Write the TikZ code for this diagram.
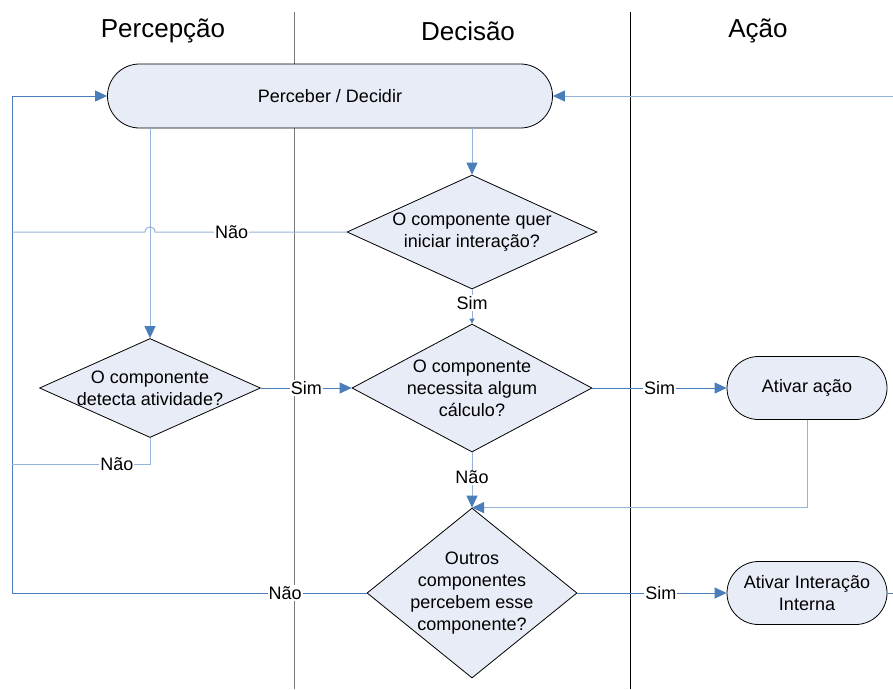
\documentclass[tikz,border=0pt]{standalone}
\usepackage{fontspec}
\setmainfont{Liberation Sans}
\usepackage{xcolor}
\usepackage{tikz}
\usetikzlibrary{shapes}
\usetikzlibrary{arrows.meta}

\definecolor{lanegray}{RGB}{120,120,120}
\definecolor{flowdark}{RGB}{74,126,187}
\definecolor{flowlight}{RGB}{149,179,215}
\definecolor{boxfill}{RGB}{232,236,247}

\tikzset{
  bodyfont/.style={font=\fontsize{18}{22}\selectfont},
  lanehead/.style={inner sep=0pt, font=\fontsize{26}{30}\selectfont},
  terminal/.style={rounded rectangle, draw=black, fill=boxfill, line width=0.8pt, minimum height=63pt, inner sep=0pt, align=center, bodyfont},
  decision/.style={diamond, draw=black, fill=boxfill, line width=0.8pt, inner sep=-8pt, align=center, bodyfont},
  lbl/.style={fill=white, inner sep=1pt, text=black, bodyfont},
  tip/.style={-{Triangle[length=12pt,width=11pt,color=flowdark]}},
  smalltip/.style={-{Triangle[length=5pt,width=5pt,color=flowdark]}},
  conn/.style={line width=1pt},
}

\begin{document}
\begin{tikzpicture}[x=1pt,y=1pt,yscale=-1,xscale=1]
\useasboundingbox (0,0) rectangle (893,689);

%Straight Lines: lanes
\draw[lanegray, line width=1pt] (294,12) -- (294,689);
\draw[black, line width=1pt] (630,12) -- (630,689);

% Text Node
\node[lanehead] (hPerc) at (163,31) {Percepção};
% Text Node
\node[lanehead] (hDec) at (468,31) {Decisão};
% Text Node
\node[lanehead] (hAcao) at (758,31) {Ação};

%Shape: Terminal
\node[terminal, minimum width=445pt, minimum height=64pt] (perc) at (330,96) {Perceber / Decidir};
%Shape: Terminal
\node[terminal, minimum width=160pt] (ativa) at (807,388) {Ativar ação};
%Shape: Terminal
\node[terminal, minimum width=160pt] (inter) at (807,593) {Ativar Interação\\Interna};

%Shape: Diamond
\node[decision, shape aspect=2.2, minimum width=250pt, minimum height=114pt] (quer) at (472,232) {O componente quer\\iniciar interação?};
%Shape: Diamond
\node[decision, shape aspect=1.9, minimum width=240pt, minimum height=128pt] (calc) at (472,388) {O componente\\necessita algum\\cálculo?};
%Shape: Diamond
\node[decision, shape aspect=2.2, minimum width=221pt, minimum height=99pt] (detecta) at (150,388) {O componente\\detecta atividade?};
%Shape: Diamond
\node[decision, shape aspect=1.2, minimum width=210pt, minimum height=170pt] (outros) at (472,593) {Outros\\componentes\\percebem esse\\componente?};

% free ends
\coordinate (loopTop) at (12,96);
\coordinate (loopQuer) at (12,232);
\coordinate (loopDet) at (12,464);
\coordinate (loopOut) at (12,593);
\coordinate (salto) at (155,232);
\coordinate (entrada) at (893,96);
\coordinate (saida) at (893,593);

%Straight Lines
\draw[conn, flowdark, tip] (loopOut) -- (loopTop) -- (perc.west);
\draw[conn, flowlight, tip] (entrada) -- (perc.east);
\draw[conn, flowlight, tip] (perc.south -| quer.north) -- (quer.north);
\draw[conn, flowlight, tip] (perc.south -| detecta.north) -- (detecta.north);
\draw[conn, flowlight] (quer.west) -- node[lbl, pos=0.6] {Não} (salto) .. controls (155,225.3) and (145,225.3) .. (145,232) -- (loopQuer);
\draw[conn, flowlight, smalltip] (quer.south) -- node[lbl, pos=0.4] {Sim} (calc.north);
\draw[conn, flowlight] (detecta.south) |- node[lbl, pos=0.62] {Não} (loopDet);
\draw[conn, flowdark, tip] (detecta.east) -- node[lbl] {Sim} (calc.west);
\draw[conn, flowdark, tip] (calc.east) -- node[lbl] {Sim} (ativa.west);
\draw[conn, flowlight, tip] (calc.south) -- node[lbl, pos=0.45] {Não} (outros.north);
\draw[conn, flowlight, tip] (ativa.south) |- (outros.north);
\draw[conn, flowdark] (outros.west) -- node[lbl, pos=0.23] {Não} (loopOut);
\draw[conn, flowdark, tip] (outros.east) -- node[lbl, pos=0.56] {Sim} (inter.west);
\draw[conn, flowdark] (inter.east) -- (saida);

\end{tikzpicture}
\end{document}
